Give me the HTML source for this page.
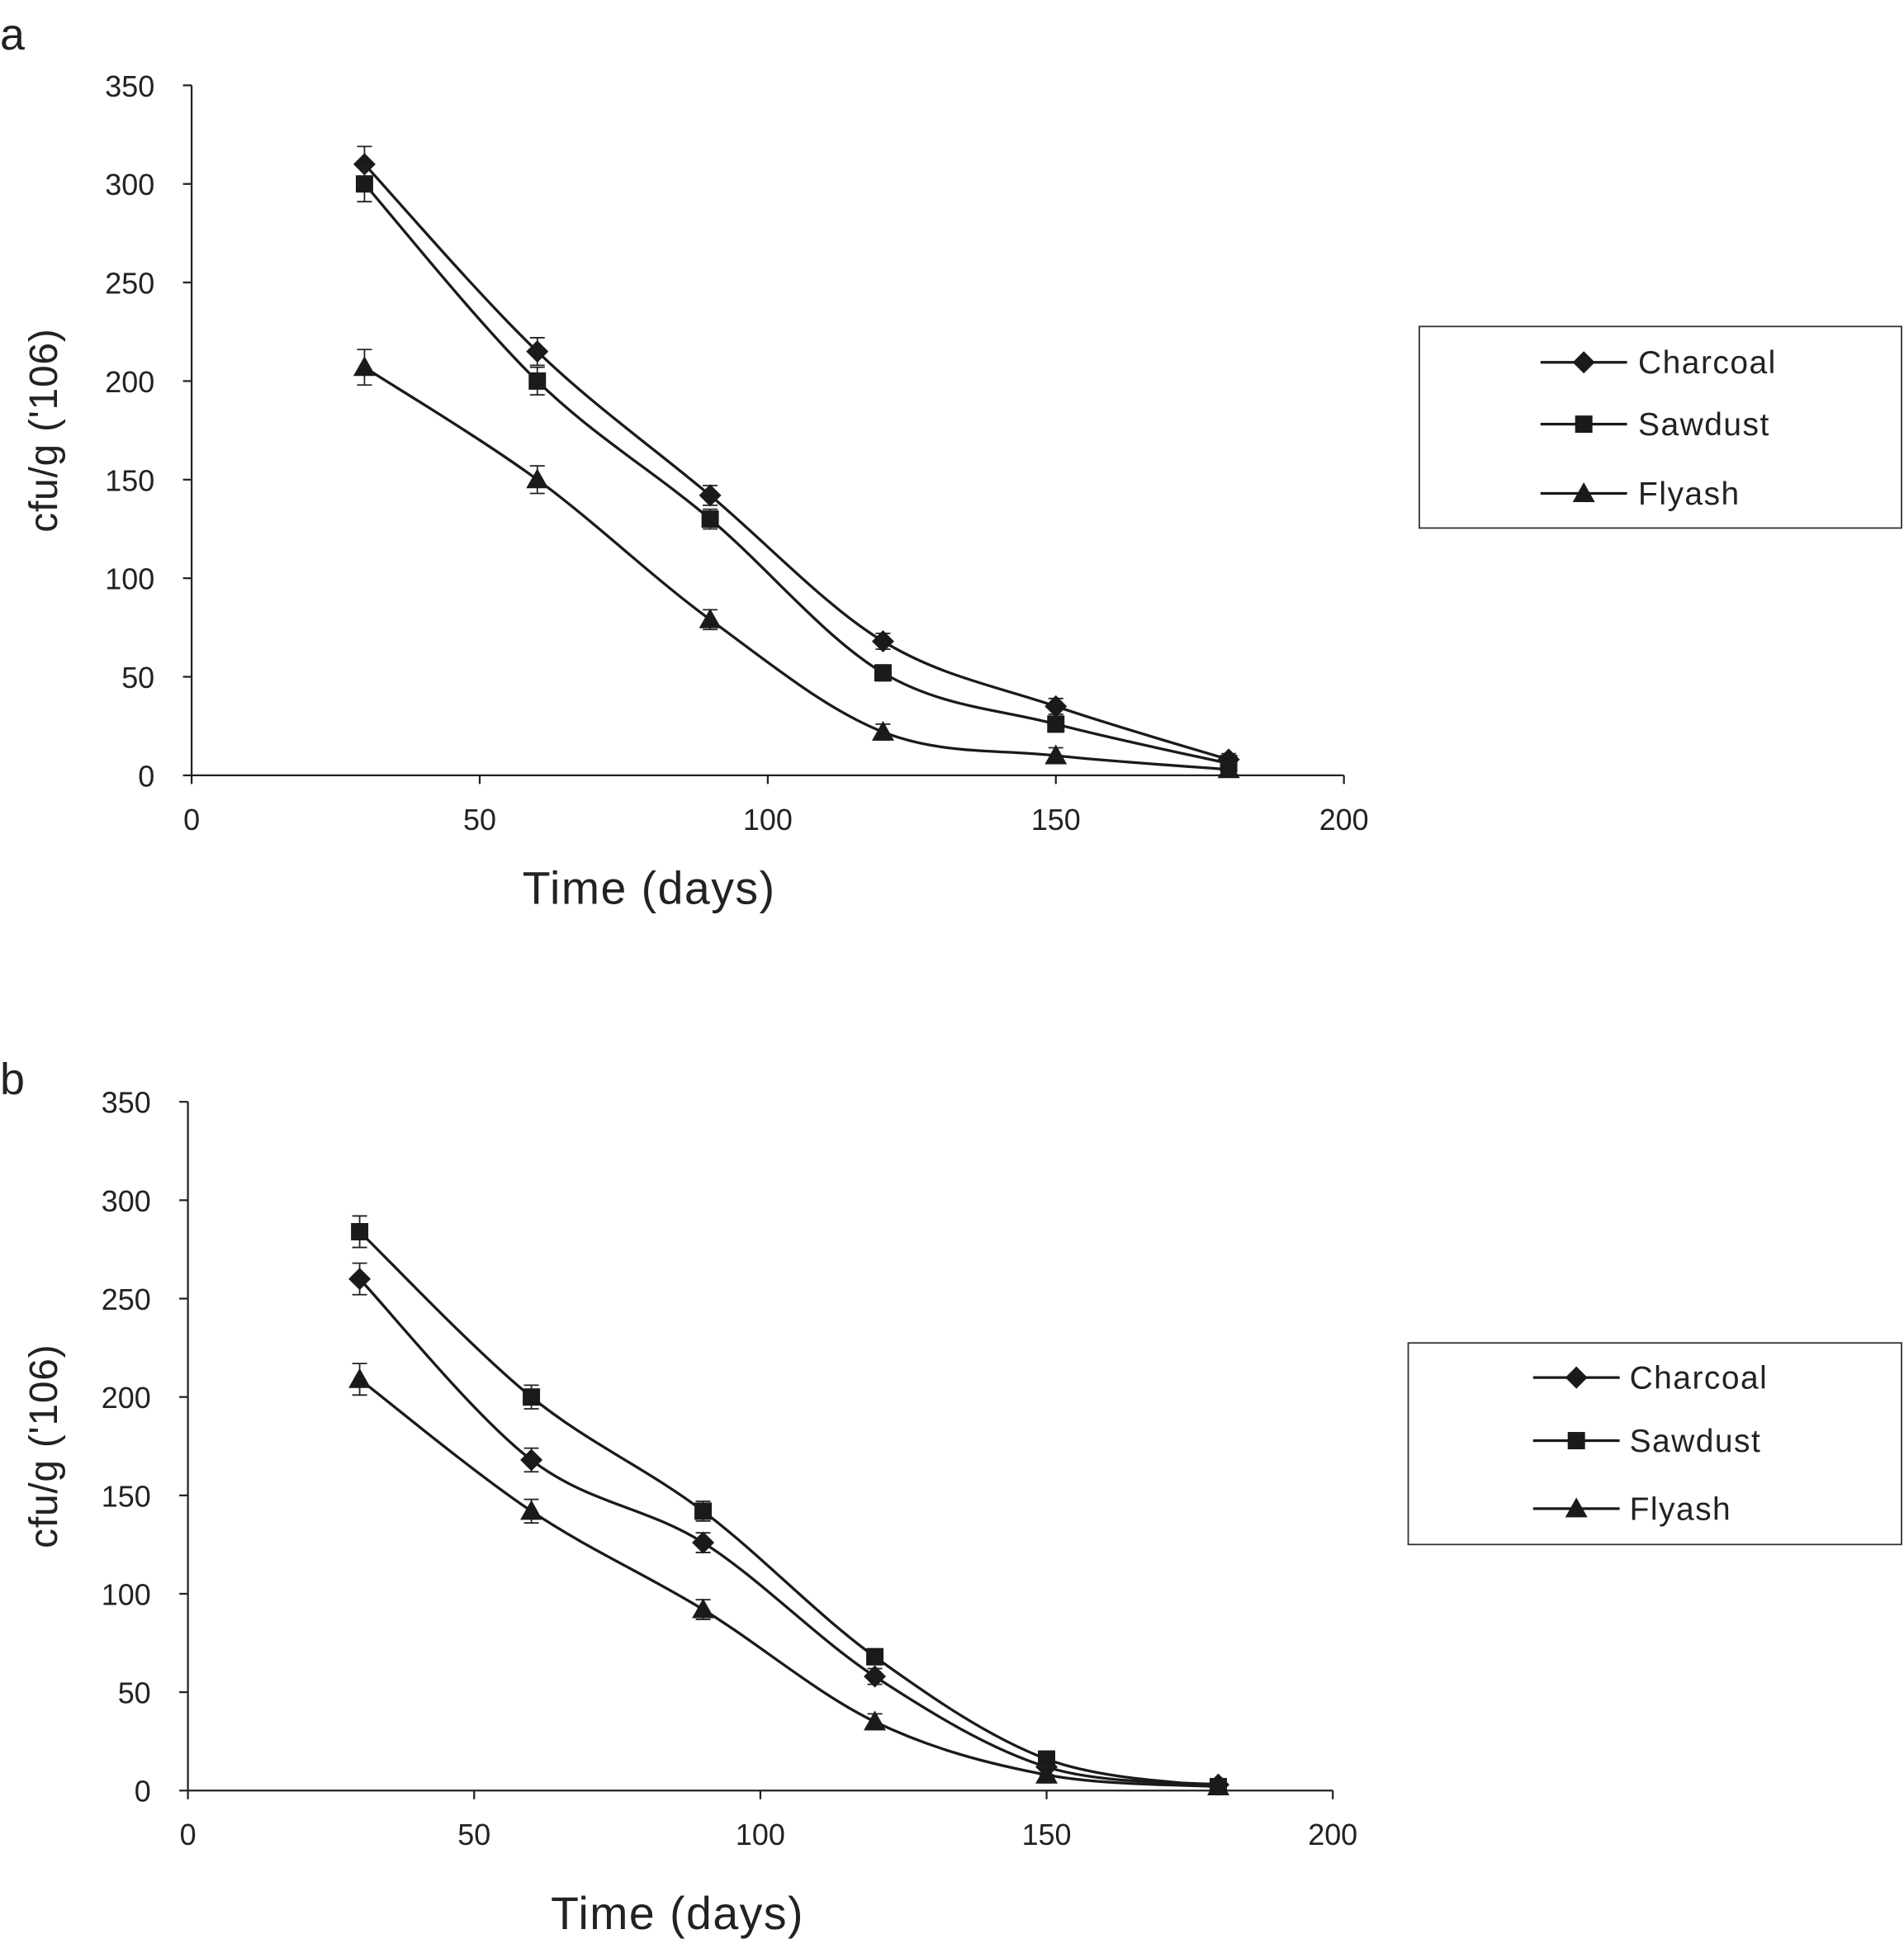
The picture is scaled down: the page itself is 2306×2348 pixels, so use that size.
<!DOCTYPE html>
<html><head><meta charset="utf-8"><style>
html,body{margin:0;padding:0;background:#fff}
svg{display:block}
text{font-family:"Liberation Sans",sans-serif;fill:#222}
</style></head><body>
<svg id="chart" width="2306" height="2348" viewBox="0 0 1540 1568" xmlns="http://www.w3.org/2000/svg"></svg>
<script>
const days = [30, 60, 90, 120, 150, 180];
const aCharcoal = [310, 215, 142, 68, 35, 8];
const aSawdust = [300, 200, 130, 52, 26, 6];
const aFlyash = [207, 150, 79, 22, 10, 3];
const bCharcoal = [260, 168, 126, 58, 12, 3];
const bSawdust = [284, 200, 142, 68, 16, 2];
const bFlyash = [209, 142, 92, 35, 8, 2];
const errA = [9, 7, 5, 4, 4, 3];
const errB = [8, 6, 5, 4, 4, 3];
const yTicks = [0, 50, 100, 150, 200, 250, 300, 350];
const xTicks = [0, 50, 100, 150, 200];
const seriesNames = ["Charcoal", "Sawdust", "Flyash"];
const markers = ["diamond", "square", "triangle"];

const svg = document.getElementById('chart');
const NS = 'http://www.w3.org/2000/svg';
function mk(tag, attrs, parent){const e=document.createElementNS(NS,tag);for(const k in attrs)e.setAttribute(k,attrs[k]);(parent||svg).appendChild(e);return e;}

function smoothPath(pts){
  let d='M'+pts[0][0]+','+pts[0][1];
  for(let i=0;i<pts.length-1;i++){
    const p0=pts[i-1]||pts[i],p1=pts[i],p2=pts[i+1],p3=pts[i+2]||p2;
    const t=0.5/3;
    const c1=[p1[0]+(p2[0]-p0[0])*t,p1[1]+(p2[1]-p0[1])*t];
    const c2=[p2[0]-(p3[0]-p1[0])*t,p2[1]-(p3[1]-p1[1])*t];
    d+=' C'+c1+' '+c2+' '+p2;
  }
  return d;
}
function marker(g,type,x,y){
  let e;
  if(type==='diamond') e=mk('polygon',{points:`${x},${y-9} ${x+9},${y} ${x},${y+9} ${x-9},${y}`,fill:'#1a1a1a'},g);
  else if(type==='square') e=mk('rect',{x:x-7,y:y-7,width:14,height:14,fill:'#1a1a1a'},g);
  else e=mk('polygon',{points:`${x},${y-9} ${x+9},${y+7} ${x-9},${y+7}`,fill:'#1a1a1a'},g);
  return e;
}

function panel(cfg){
  const g=mk('g',{});
  
  
  const sx=v=>cfg.x0+(v/200)*(cfg.x1-cfg.x0);
  const sy=v=>cfg.y0-(v/350)*(cfg.y0-cfg.y1);
  const lbl=mk('text',{x:0,y:cfg.labelY,'font-size':36},g);lbl.textContent=cfg.label;
  
  
  const ya=mk('line',{x1:cfg.x0,y1:sy(0),x2:cfg.x0,y2:sy(350),stroke:'#222','stroke-width':1.5},g);
  
  
  const xa=mk('line',{x1:cfg.x0,y1:sy(0),x2:sx(200),y2:sy(0),stroke:'#222','stroke-width':1.5},g);
  
  
  yTicks.forEach(v=>{
    mk('line',{x1:cfg.x0-7,y1:sy(v),x2:cfg.x0,y2:sy(v),stroke:'#222','stroke-width':1.5},g);
    const t=mk('text',{x:cfg.x0-30,y:sy(v)+9,'font-size':24,'text-anchor':'end'},g);t.textContent=v;
    
    
  });
  xTicks.forEach(v=>{
    mk('line',{x1:sx(v),y1:sy(0),x2:sx(v),y2:sy(0)+7,stroke:'#222','stroke-width':1.5},g);
    const t=mk('text',{x:sx(v),y:sy(0)+44,'font-size':24,'text-anchor':'middle'},g);t.textContent=v;
    
    
  });
  const xt=mk('text',{x:cfg.xtX,y:cfg.xtY,'font-size':37,'text-anchor':'middle','letter-spacing':1},g);xt.textContent='Time  (days)';
  
  
  const ytY=(sy(0)+sy(350))/2;
  const yt=mk('text',{x:46,y:ytY,'font-size':32,'text-anchor':'middle','letter-spacing':0.5,transform:`rotate(-90 46 ${ytY})`},g);yt.textContent="cfu/g ('106)";
  
  
  cfg.series.forEach((vals,si)=>{
    const sg=mk('g',{},g);
    
    
    const pts=days.map((d,i)=>[sx(d),sy(vals[i])]);
    const p=mk('path',{d:smoothPath(pts),fill:'none',stroke:'#1a1a1a','stroke-width':2.2},sg);
    
    
    days.forEach((d,i)=>{
      const x=sx(d),e=cfg.err[i];
      mk('line',{x1:x,y1:sy(vals[i]+e),x2:x,y2:sy(vals[i]-e),stroke:'#222','stroke-width':1.2},sg);
      mk('line',{x1:x-6,y1:sy(vals[i]+e),x2:x+6,y2:sy(vals[i]+e),stroke:'#222','stroke-width':1.2},sg);
      mk('line',{x1:x-6,y1:sy(vals[i]-e),x2:x+6,y2:sy(vals[i]-e),stroke:'#222','stroke-width':1.2},sg);
      const m=marker(sg,markers[si],x,sy(vals[i]));
      
      
    });
  });
  const lg=mk('g',{},g);
  
  
  const L=cfg.legend;
  mk('rect',{x:L.x,y:L.y,width:L.w,height:L.h,fill:'#fff',stroke:'#333','stroke-width':1.2},lg);
  seriesNames.forEach((n,i)=>{
    const ey=L.rows[i];
    const eg=mk('g',{},lg);
    
    
    mk('line',{x1:L.lx1,y1:ey,x2:L.lx2,y2:ey,stroke:'#1a1a1a','stroke-width':2.2},eg);
    marker(eg,markers[i],(L.lx1+L.lx2)/2,ey);
    const t=mk('text',{x:L.tx,y:ey+9,'font-size':26,'letter-spacing':1},eg);t.textContent=n;
  });
}

panel({label:'a',labelY:40,x0:155,x1:1087,y0:627,y1:69,xtX:525,xtY:731,
  series:[aCharcoal,aSawdust,aFlyash],err:errA,
  legend:{x:1148,y:264,w:390,h:163,rows:[293,343,399],lx1:1246,lx2:1316,tx:1325}});
panel({label:'b',labelY:885,x0:152,x1:1078,y0:1448,y1:891,xtX:548,xtY:1560,
  series:[bCharcoal,bSawdust,bFlyash],err:errB,
  legend:{x:1139,y:1086,w:399,h:163,rows:[1114,1165,1220],lx1:1240,lx2:1310,tx:1318}});
</script>
</body></html>
